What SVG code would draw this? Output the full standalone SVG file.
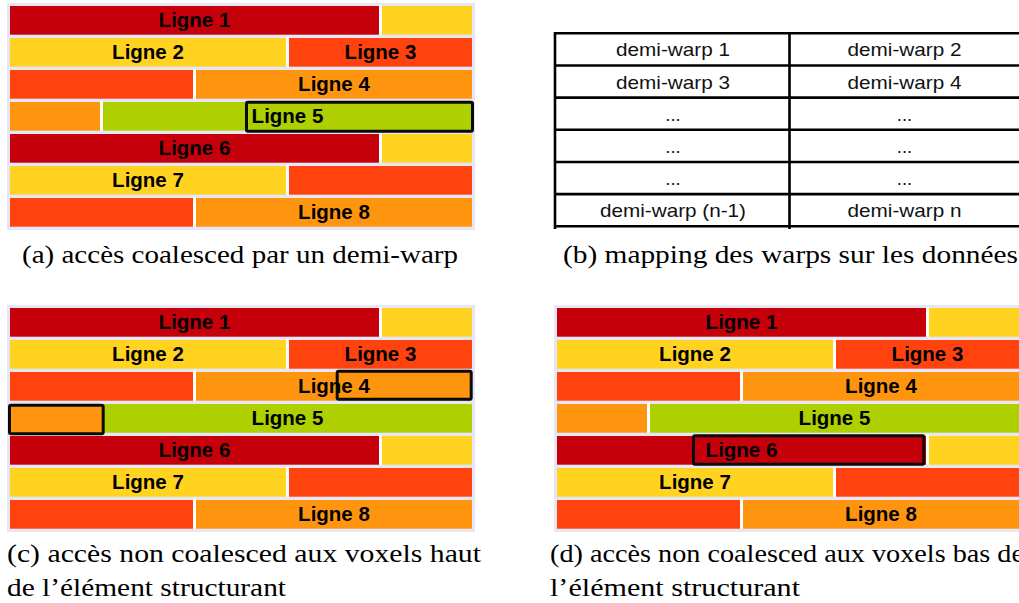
<svg xmlns="http://www.w3.org/2000/svg" width="1019" height="603" viewBox="0 0 1019 603">
<style>
.bg{fill:#e6e6f4}
.gap{fill:#ffffff}
.red{fill:#c5000b}
.yel{fill:#ffd320}
.ore{fill:#ff420e}
.org{fill:#ff950e}
.grn{fill:#aecf00}
.lbl{font-family:"Liberation Sans",Arial,sans-serif;font-weight:bold;font-size:20.5px;fill:#000;text-anchor:middle}
.box{fill:none;stroke:#0a0a0a;stroke-width:3}
.tl{stroke:#000;stroke-width:2.6;fill:none}
.tt{font-family:"Liberation Sans",Arial,sans-serif;font-size:18.6px;fill:#111;text-anchor:middle}
.cap{font-family:"Liberation Serif","Times New Roman",serif;font-size:26px;fill:#000}
</style>
<rect width="1019" height="603" fill="#ffffff"/>

<g id="panel-a">
<rect class="bg" x="7" y="3" width="468" height="227"/>
<rect class="gap" x="379" y="4.7" width="3" height="30"/><rect class="gap" x="286" y="36.7" width="3" height="30"/><rect class="gap" x="193" y="68.7" width="3" height="30"/><rect class="gap" x="100" y="100.7" width="3" height="30"/><rect class="gap" x="379" y="132.7" width="3" height="30"/><rect class="gap" x="286" y="164.7" width="3" height="30"/><rect class="gap" x="193" y="196.7" width="3" height="30"/>
<rect class="red" x="10" y="6" width="369" height="28.7"/><rect class="yel" x="382" y="6" width="90" height="28.7"/>
<rect class="yel" x="10" y="38" width="276" height="28.7"/><rect class="ore" x="289" y="38" width="183" height="28.7"/>
<rect class="ore" x="10" y="70" width="183" height="28.7"/><rect class="org" x="196" y="70" width="276" height="28.7"/>
<rect class="org" x="10" y="102" width="90" height="28.7"/><rect class="grn" x="103" y="102" width="369" height="28.7"/>
<rect class="red" x="10" y="134" width="369" height="28.7"/><rect class="yel" x="382" y="134" width="90" height="28.7"/>
<rect class="yel" x="10" y="166" width="276" height="28.7"/><rect class="ore" x="289" y="166" width="183" height="28.7"/>
<rect class="ore" x="10" y="198" width="183" height="28.7"/><rect class="org" x="196" y="198" width="276" height="28.7"/>
<rect class="box" x="246.5" y="102.2" width="226" height="29" rx="1.5"/>
<text class="lbl" x="194.5" y="27.3">Ligne 1</text>
<text class="lbl" x="148" y="59.3">Ligne 2</text>
<text class="lbl" x="380.5" y="59.3">Ligne 3</text>
<text class="lbl" x="334" y="91.3">Ligne 4</text>
<text class="lbl" x="287.5" y="123.3">Ligne 5</text>
<text class="lbl" x="194.5" y="155.3">Ligne 6</text>
<text class="lbl" x="148" y="187.3">Ligne 7</text>
<text class="lbl" x="334" y="219.3">Ligne 8</text>
</g>

<g id="panel-b">
<line class="tl" x1="555" y1="33.3" x2="1019" y2="33.3"/>
<line class="tl" x1="555" y1="65.5" x2="1019" y2="65.5"/>
<line class="tl" x1="555" y1="97.6" x2="1019" y2="97.6"/>
<line class="tl" x1="555" y1="129.8" x2="1019" y2="129.8"/>
<line class="tl" x1="555" y1="162" x2="1019" y2="162"/>
<line class="tl" x1="555" y1="194.1" x2="1019" y2="194.1"/>
<line class="tl" x1="555" y1="226.3" x2="1019" y2="226.3"/>
<line class="tl" x1="555" y1="32" x2="555" y2="229"/>
<line class="tl" x1="789.5" y1="32" x2="789.5" y2="229"/>
<text class="tt" x="673" y="56.4" textLength="114" lengthAdjust="spacingAndGlyphs">demi-warp 1</text>
<text class="tt" x="904.5" y="56.4" textLength="114" lengthAdjust="spacingAndGlyphs">demi-warp 2</text>
<text class="tt" x="673" y="88.6" textLength="114" lengthAdjust="spacingAndGlyphs">demi-warp 3</text>
<text class="tt" x="904.5" y="88.6" textLength="114" lengthAdjust="spacingAndGlyphs">demi-warp 4</text>
<text class="tt" x="673" y="120.7">...</text>
<text class="tt" x="904.5" y="120.7">...</text>
<text class="tt" x="673" y="152.9">...</text>
<text class="tt" x="904.5" y="152.9">...</text>
<text class="tt" x="673" y="185.1">...</text>
<text class="tt" x="904.5" y="185.1">...</text>
<text class="tt" x="673" y="217.3" textLength="146" lengthAdjust="spacingAndGlyphs">demi-warp (n-1)</text>
<text class="tt" x="904.5" y="217.3" textLength="114" lengthAdjust="spacingAndGlyphs">demi-warp n</text>
</g>

<g id="panel-c">
<rect class="bg" x="7" y="305" width="468" height="227"/>
<rect class="gap" x="379" y="306.7" width="3" height="30"/><rect class="gap" x="286" y="338.7" width="3" height="30"/><rect class="gap" x="193" y="370.7" width="3" height="30"/><rect class="gap" x="100" y="402.7" width="3" height="30"/><rect class="gap" x="379" y="434.7" width="3" height="30"/><rect class="gap" x="286" y="466.7" width="3" height="30"/><rect class="gap" x="193" y="498.7" width="3" height="30"/>
<rect class="red" x="10" y="308" width="369" height="28.7"/><rect class="yel" x="382" y="308" width="90" height="28.7"/>
<rect class="yel" x="10" y="340" width="276" height="28.7"/><rect class="ore" x="289" y="340" width="183" height="28.7"/>
<rect class="ore" x="10" y="372" width="183" height="28.7"/><rect class="org" x="196" y="372" width="276" height="28.7"/>
<rect class="org" x="10" y="404" width="90" height="28.7"/><rect class="grn" x="103" y="404" width="369" height="28.7"/>
<rect class="red" x="10" y="436" width="369" height="28.7"/><rect class="yel" x="382" y="436" width="90" height="28.7"/>
<rect class="yel" x="10" y="468" width="276" height="28.7"/><rect class="ore" x="289" y="468" width="183" height="28.7"/>
<rect class="ore" x="10" y="500" width="183" height="28.7"/><rect class="org" x="196" y="500" width="276" height="28.7"/>
<rect class="box" x="337.2" y="371.2" width="134" height="28" rx="1.5"/>
<rect class="box" style="fill:#ff950e" x="9.5" y="405.2" width="93.7" height="28.6" rx="1.5"/>
<text class="lbl" x="194.5" y="329.3">Ligne 1</text>
<text class="lbl" x="148" y="361.3">Ligne 2</text>
<text class="lbl" x="380.5" y="361.3">Ligne 3</text>
<text class="lbl" x="334" y="393.3">Ligne 4</text>
<text class="lbl" x="287.5" y="425.3">Ligne 5</text>
<text class="lbl" x="194.5" y="457.3">Ligne 6</text>
<text class="lbl" x="148" y="489.3">Ligne 7</text>
<text class="lbl" x="334" y="521.3">Ligne 8</text>
</g>

<g id="panel-d">
<rect class="bg" x="554" y="305" width="468" height="227"/>
<rect class="gap" x="926" y="306.7" width="3" height="30"/><rect class="gap" x="833" y="338.7" width="3" height="30"/><rect class="gap" x="740" y="370.7" width="3" height="30"/><rect class="gap" x="647" y="402.7" width="3" height="30"/><rect class="gap" x="926" y="434.7" width="3" height="30"/><rect class="gap" x="833" y="466.7" width="3" height="30"/><rect class="gap" x="740" y="498.7" width="3" height="30"/>
<rect class="red" x="557" y="308" width="369" height="28.7"/><rect class="yel" x="929" y="308" width="90" height="28.7"/>
<rect class="yel" x="557" y="340" width="276" height="28.7"/><rect class="ore" x="836" y="340" width="183" height="28.7"/>
<rect class="ore" x="557" y="372" width="183" height="28.7"/><rect class="org" x="743" y="372" width="276" height="28.7"/>
<rect class="org" x="557" y="404" width="90" height="28.7"/><rect class="grn" x="650" y="404" width="369" height="28.7"/>
<rect class="red" x="557" y="436" width="369" height="28.7"/><rect class="yel" x="929" y="436" width="90" height="28.7"/>
<rect class="yel" x="557" y="468" width="276" height="28.7"/><rect class="ore" x="836" y="468" width="183" height="28.7"/>
<rect class="ore" x="557" y="500" width="183" height="28.7"/><rect class="org" x="743" y="500" width="276" height="28.7"/>
<rect class="box" x="693.5" y="435.8" width="230.3" height="28.4" rx="1.5"/>
<text class="lbl" x="741.5" y="329.3">Ligne 1</text>
<text class="lbl" x="695" y="361.3">Ligne 2</text>
<text class="lbl" x="927.5" y="361.3">Ligne 3</text>
<text class="lbl" x="881" y="393.3">Ligne 4</text>
<text class="lbl" x="834.5" y="425.3">Ligne 5</text>
<text class="lbl" x="741.5" y="457.3">Ligne 6</text>
<text class="lbl" x="695" y="489.3">Ligne 7</text>
<text class="lbl" x="881" y="521.3">Ligne 8</text>
</g>

<g id="captions">
<text class="cap" x="22" y="263" textLength="436" lengthAdjust="spacingAndGlyphs">(a) accès coalesced par un demi-warp</text>
<text class="cap" x="563" y="263" textLength="455" lengthAdjust="spacingAndGlyphs">(b) mapping des warps sur les données</text>
<text class="cap" x="7" y="562" textLength="474" lengthAdjust="spacingAndGlyphs">(c) accès non coalesced aux voxels haut</text>
<text class="cap" x="7" y="596" textLength="279" lengthAdjust="spacingAndGlyphs">de l’élément structurant</text>
<text class="cap" x="550" y="562" textLength="474" lengthAdjust="spacingAndGlyphs">(d) accès non coalesced aux voxels bas de</text>
<text class="cap" x="550" y="596" textLength="250" lengthAdjust="spacingAndGlyphs">l’élément structurant</text>
</g>
</svg>
